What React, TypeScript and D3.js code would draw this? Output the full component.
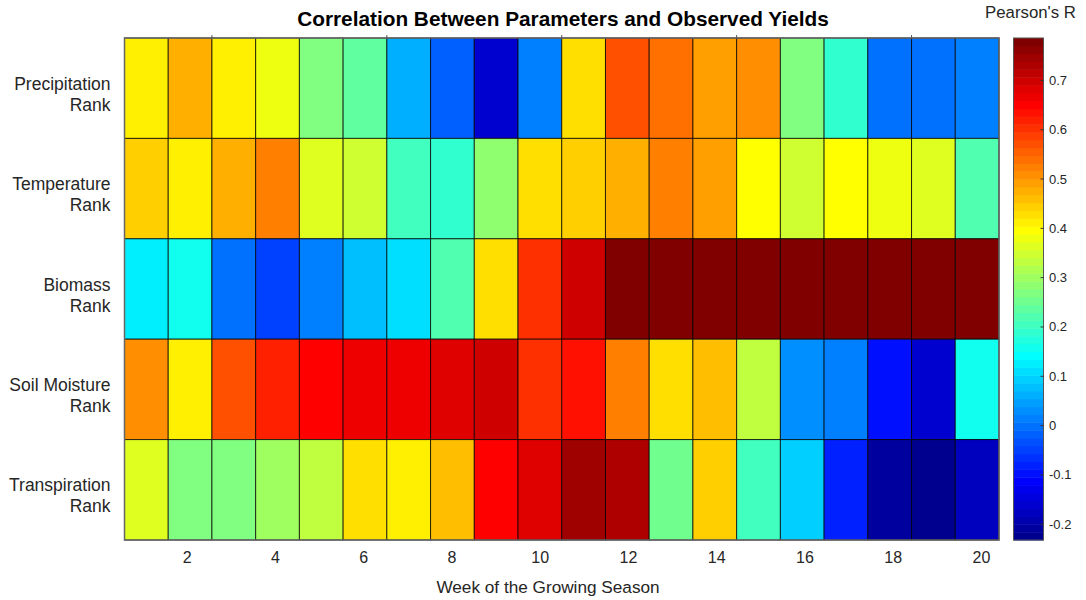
import React from "react";
import * as d3 from "d3";

// Pearson's R between each ranked parameter and observed yield, per week
const weeks = d3.range(1, 21);
const parameters = [
  ["Precipitation", "Rank"],
  ["Temperature", "Rank"],
  ["Biomass", "Rank"],
  ["Soil Moisture", "Rank"],
  ["Transpiration", "Rank"],
];

const precipitationR = [0.412, 0.476, 0.412, 0.380, 0.269, 0.237, 0.063, -0.017, -0.160, 0.015,
  0.428, 0.571, 0.539, 0.492, 0.508, 0.269, 0.190, -0.001, -0.001, 0.015];
const temperatureR = [0.444, 0.412, 0.476, 0.523, 0.364, 0.349, 0.205, 0.190, 0.285, 0.428,
  0.444, 0.476, 0.523, 0.492, 0.396, 0.349, 0.396, 0.380, 0.364, 0.221];
const biomassR = [0.126, 0.158, -0.001, -0.049, 0.015, 0.078, 0.110, 0.221, 0.428, 0.603,
  0.698, 0.779, 0.786, 0.785, 0.784, 0.783, 0.781, 0.780, 0.782, 0.781];
const soilMoistureR = [0.508, 0.412, 0.571, 0.619, 0.651, 0.667, 0.667, 0.683, 0.698, 0.603,
  0.635, 0.523, 0.428, 0.460, 0.333, 0.031, 0.015, -0.097, -0.160, 0.158];
const transpirationR = [0.364, 0.269, 0.269, 0.301, 0.333, 0.428, 0.412, 0.460, 0.651, 0.683,
  0.746, 0.730, 0.253, 0.444, 0.205, 0.094, -0.081, -0.208, -0.232, -0.176];

const seriesR = [precipitationR, temperatureR, biomassR, soilMoistureR, transpirationR];

const colorLimits = [-0.232, 0.786];
const xTickWeeks = [2, 4, 6, 8, 10, 12, 14, 16, 18, 20];
const colorbarTicks = [-0.2, -0.1, 0, 0.1, 0.2, 0.3, 0.4, 0.5, 0.6, 0.7];

// MATLAB-style jet(m) colormap
function jetMap(m: number): string[] {
  const n = Math.ceil(m / 4);
  const u: number[] = [];
  for (let i = 1; i <= n; i++) u.push(i / n);
  for (let i = 1; i < n; i++) u.push(1);
  for (let i = n; i >= 1; i--) u.push(i / n);
  const off = Math.ceil(n / 2) - (m % 4 === 1 ? 1 : 0);
  const J = Array.from({ length: m }, () => [0, 0, 0]);
  const g = u.map((_, i) => off + i + 1);
  const r = g.map((v) => v + n).filter((v) => v <= m);
  const b = g.map((v) => v - n).filter((v) => v >= 1);
  const gg = g.filter((v) => v <= m);
  r.forEach((idx, i) => (J[idx - 1][0] = u[i]));
  gg.forEach((idx, i) => (J[idx - 1][1] = u[i]));
  b.forEach((idx, i) => (J[idx - 1][2] = u[u.length - b.length + i]));
  return J.map(([rr, gv, bb]) => d3.rgb(rr * 255, gv * 255, bb * 255).formatHex());
}

const LEVELS = 64;
const jet = jetMap(LEVELS);

function colorFor(v: number): string {
  const [lo, hi] = colorLimits;
  let idx = Math.floor(((v - lo) / (hi - lo)) * LEVELS);
  idx = Math.max(0, Math.min(LEVELS - 1, idx));
  return jet[idx];
}

const W = 1086;
const H = 600;
const plot = { left: 124.5, right: 999, top: 38, bottom: 540 };
const cbar = { left: 1013.5, right: 1043.5 };
const FONT = "'Liberation Sans', Arial, Helvetica, sans-serif";
const TEXT = "#262626";

export default function App() {
  const x = d3.scaleBand<number>().domain(weeks).range([plot.left, plot.right]);
  const y = d3
    .scaleBand<number>()
    .domain(d3.range(parameters.length))
    .range([plot.top, plot.bottom]);
  // tick-label axis spans the week range with a little padding on each side
  const xLabel = d3.scaleLinear().domain([0.5, 20.5]).range([121, 1003.5]);
  const c = d3.scaleLinear().domain(colorLimits).range([plot.bottom, plot.top]);

  const levelH = (plot.bottom - plot.top) / LEVELS;
  const topTicks = [2, 6, 10, 14, 18].map((w) => (x(w) as number) + x.bandwidth());
  const fmt = (t: number) => (t === 0 ? "0" : d3.format(".1f")(t).replace("−", "-"));

  return (
    <svg
      width={W}
      height={H}
      style={{ position: "absolute", left: 0, top: 0, background: "#fff" }}
      fontFamily={FONT}
    >
      <text x={563} y={26} textAnchor="middle" fontSize={20.8} fontWeight="bold" fill="#000">
        Correlation Between Parameters and Observed Yields
      </text>

      {/* heatmap cells */}
      {seriesR.map((row, ri) =>
        row.map((v, ci) => (
          <rect
            key={`${ri}-${ci}`}
            x={x(weeks[ci])}
            y={y(ri)}
            width={x.bandwidth()}
            height={y.bandwidth()}
            fill={colorFor(v)}
            stroke="#000"
            strokeOpacity={0.75}
            strokeWidth={1}
          />
        ))
      )}
      <rect
        x={plot.left}
        y={plot.top}
        width={plot.right - plot.left}
        height={plot.bottom - plot.top}
        fill="none"
        stroke="#666"
        strokeWidth={1.5}
      />
      {topTicks.map((tx, i) => (
        <line key={i} x1={tx} x2={tx} y1={plot.top} y2={plot.top - 3} stroke="#555" strokeWidth={1} />
      ))}

      {/* row labels */}
      {parameters.map((lines, ri) => {
        const cy = (y(ri) as number) + y.bandwidth() / 2;
        return (
          <text key={ri} textAnchor="end" fontSize={17.5} fill={TEXT}>
            {lines.map((ln, li) => (
              <tspan key={li} x={110.5} y={cy + 1.5 + li * 21}>
                {ln}
              </tspan>
            ))}
          </text>
        );
      })}

      {/* x ticks */}
      {xTickWeeks.map((w) => (
        <text key={w} x={xLabel(w)} y={562.5} textAnchor="middle" fontSize={16} fill={TEXT}>
          {w}
        </text>
      ))}
      <text x={548} y={593} textAnchor="middle" fontSize={17.2} fill={TEXT}>
        Week of the Growing Season
      </text>

      {/* colorbar */}
      {jet.map((col, i) => (
        <rect
          key={i}
          x={cbar.left}
          y={plot.bottom - (i + 1) * levelH}
          width={cbar.right - cbar.left}
          height={levelH + 0.5}
          fill={col}
        />
      ))}
      <rect
        x={cbar.left}
        y={plot.top}
        width={cbar.right - cbar.left}
        height={plot.bottom - plot.top}
        fill="none"
        stroke="#555"
        strokeWidth={1}
      />
      {colorbarTicks.map((t) => (
        <g key={t}>
          <line x1={cbar.right - 3} x2={cbar.right} y1={c(t)} y2={c(t)} stroke="#333" strokeWidth={1} />
          <text x={cbar.right + 5.5} y={c(t) + 4.5} fontSize={13} fill={TEXT}>
            {fmt(t)}
          </text>
        </g>
      ))}
      <text x={1030.5} y={18} textAnchor="middle" fontSize={16.8} fill={TEXT}>
        Pearson's R
      </text>
    </svg>
  );
}
